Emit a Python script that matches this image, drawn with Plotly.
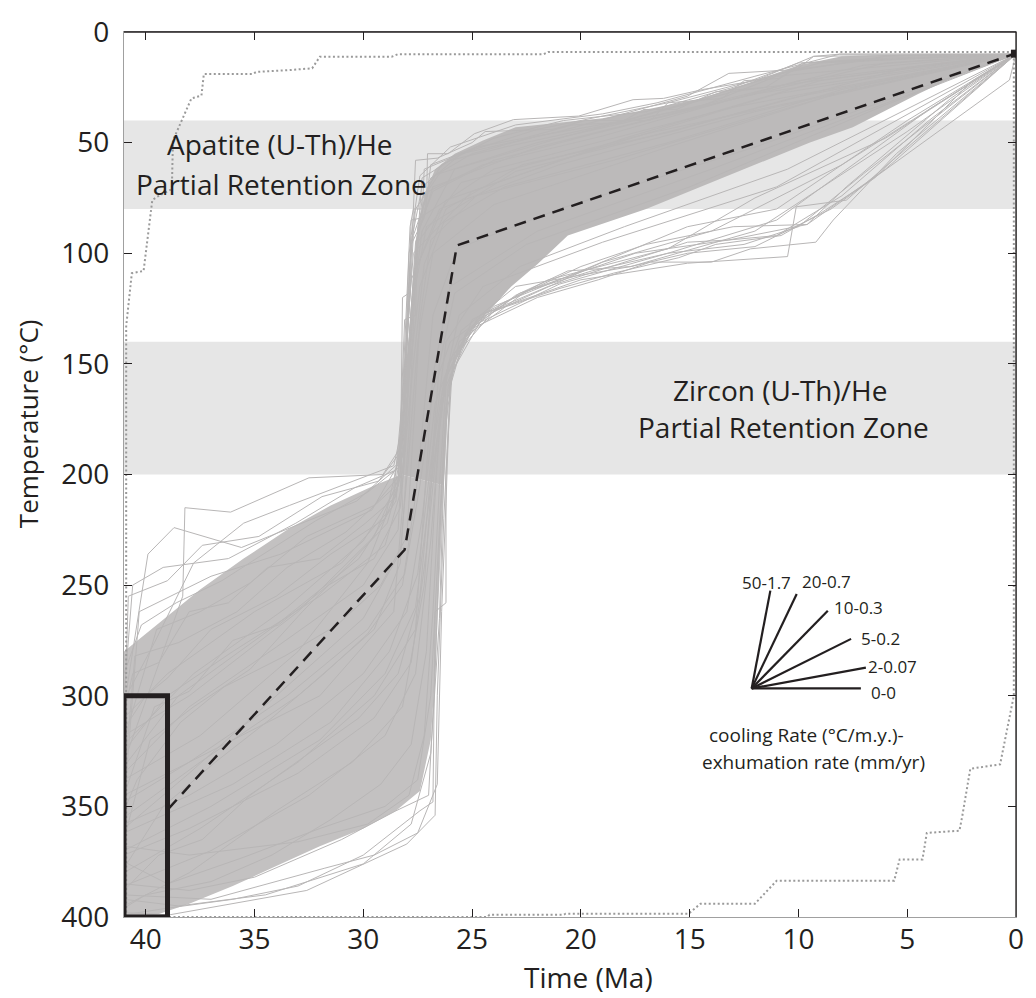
import plotly.graph_objects as go

# ---------------- data ----------------
time_ticks = [40, 35, 30, 25, 20, 15, 10, 5, 0]
temp_ticks = [0, 50, 100, 150, 200, 250, 300, 350, 400]

apatite_band = [40, 80]
zircon_band = [140, 200]
constraint_box_t = [41, 39]
constraint_box_T = [300, 400]

best_t = [38.95, 28.1, 25.7, 0.05]
best_T = [351, 234, 96.5, 9.8]

upper_env_t = [40.9, 40.9, 40.64, 40.1, 39.7, 39.5, 38.8, 38.75, 38.36, 37.9, 37.44, 37.33, 35.1, 34.9,
               33.4, 32.35, 32.0, 28.7, 28.4, 21.7, 21.5, 0.1]
upper_env_T = [400, 133, 109, 108, 76, 74.6, 71, 49, 40.3, 30, 28.7, 19, 19, 18,
               17.2, 16.4, 11.2, 11.2, 10, 10, 9, 9]

lower_env_t = [41, 24.3, 24.2, 20.8, 20.7, 15.05, 14.5, 12.0, 11.0, 5.6, 5.35, 4.3, 4.1, 2.6, 2.48, 2.1,
               0.73, 0.42, 0.1, 0.1, 0.05]
lower_env_T = [400, 400, 399, 399, 398.5, 398.5, 394, 394, 383.6, 383.6, 374, 374, 362, 361, 355, 333,
               331, 315, 300, 12, 9.8]

# dense cores of accepted paths (upper cluster solid, lower cluster textured)
core_upper_t = [0.2, 4, 8, 10, 12, 14.5, 17, 19, 21, 23, 24.5, 25.8, 26.7, 27.2, 27.6, 27.85, 28.0, 28.25,
                26.3, 26.1, 25.8, 25.2, 24.4, 23.2, 22, 20.6, 17, 15, 12, 9.5, 7.5, 4.5, 3, 1.4, 0.2]
core_upper_T = [9.8, 9.9, 11, 15, 22, 30, 35, 39, 41, 43, 49, 55, 62, 74, 95, 130, 165, 200,
                205, 165, 150, 137, 128, 115, 105, 92, 80, 72, 60, 50, 43, 28, 21, 15, 10.5]
core_lower_t = [28.25, 29.5, 31.5, 33.5, 35.5, 37.5, 39.5, 41, 41, 39.5, 38, 36, 34, 32, 30, 28.5, 27.4,
                26.9, 26.7, 26.5, 26.3]
core_lower_T = [200, 205, 214, 225, 238, 252, 268, 280, 400, 399, 394, 386, 377, 368, 360, 352, 343,
                320, 290, 250, 205]

# individual accepted paths (time Ma, temperature C)
paths_upper_left = [
    [(41, 330), (38.3, 255), (38.2, 215), (36.1, 217), (32.5, 201.5), (29.1, 200), (28.3, 188), (27.9, 140), (27.6, 95), (26.8, 70), (22, 52), (15, 35), (6, 14), (0, 10)],
    [(41, 305), (39.9, 236), (38.7, 224), (35.6, 233), (30.3, 212), (28.4, 195), (28.1, 150), (27.7, 100), (25, 72), (18, 48), (9, 22), (0, 10)],
    [(41, 350), (40.3, 262), (37.0, 246), (33.8, 236), (29.6, 216), (28.2, 192), (27.8, 125), (27.4, 84), (24, 62), (13, 34), (0, 10)],
    [(41, 300), (40.6, 250), (39.2, 242), (36.2, 238), (33.1, 222), (30.4, 206), (28.5, 198), (28.2, 165), (27.8, 112), (26.2, 76), (20, 55), (11, 28), (0, 10)],
    [(41, 320), (39.5, 270), (37.5, 262), (35.2, 249), (32.6, 228), (29.5, 214), (28.3, 200), (28.0, 150), (27.5, 95), (25.5, 68), (17, 46), (0, 10)],
    [(41, 340), (40.5, 282), (38.5, 276), (35.8, 262), (33.5, 242), (30.8, 226), (28.6, 206), (28.0, 160), (27.6, 108), (26.5, 80), (21, 60), (12, 36), (0, 10)],
    [(41, 315), (40.0, 300), (39.0, 292), (37.0, 270), (34.0, 255), (31.5, 236), (29.0, 220), (28.1, 180), (27.7, 120), (27.1, 88), (23, 63), (14, 40), (5, 16), (0, 10)],
    [(41, 290), (40.2, 268), (38.6, 258), (36.5, 248), (34.6, 236), (32.2, 221), (29.8, 208), (28.4, 197), (28.1, 172), (27.8, 128), (27.3, 90), (25.8, 62), (21, 48), (13, 27), (0, 10)],
    [(41, 302), (39.6, 276), (37.8, 240), (35.5, 222), (33.4, 214), (30.5, 203), (28.6, 196), (28.2, 178), (27.9, 110), (27.6, 80), (26.5, 64), (22, 50), (14.4, 33), (7, 15), (0, 10)],
    [(41, 312), (40.8, 255), (39.0, 248), (37.4, 232), (34.8, 228), (31.9, 210), (29.3, 203), (28.3, 190), (27.95, 135), (27.7, 92), (27.0, 72), (24.5, 60), (19, 47), (10, 22), (0, 10)],
    [(41, 308), (40.6, 290), (39.4, 285), (38.0, 262), (36.2, 258), (34.4, 242), (32.0, 238), (29.9, 222), (28.5, 210), (28.1, 185), (27.85, 140), (27.55, 100), (27.3, 66), (26.0, 58), (23.5, 52), (18.8, 42), (14.6, 34), (11, 20), (0, 10)],
]
paths_middle = [
    [(41, 360), (38, 335), (34, 300), (30, 265), (28.3, 235), (27.9, 190), (27.5, 140), (26.8, 100), (24, 78), (16, 52), (7, 24), (0, 10)],
    [(41, 380), (37.5, 360), (33, 330), (29.5, 300), (27.6, 270), (27.2, 210), (26.8, 155), (26, 115), (22, 90), (14, 62), (0, 10)],
    [(41, 395), (38, 380), (34, 352), (30.5, 330), (28.2, 305), (27.2, 250), (26.7, 180), (26.2, 140), (24.5, 115), (19, 95), (11, 70), (0, 10)],
    [(41, 365), (39.8, 320), (37.8, 305), (35.2, 288), (32.8, 262), (30.6, 240), (28.9, 222), (28.2, 198), (27.9, 155), (27.4, 115), (26.3, 86), (23.5, 70), (16, 50), (8, 26), (0, 10)],
    [(41, 378), (39.2, 350), (36.8, 330), (34.2, 310), (31.8, 290), (29.8, 272), (28.2, 250), (27.6, 210), (27.2, 170), (26.8, 128), (25.7, 98), (21, 80), (12, 52), (0, 10)],
    [(41, 388), (39.4, 372), (37.4, 365), (35.2, 345), (32.5, 326), (30.2, 310), (28.4, 290), (27.4, 255), (26.9, 200), (26.5, 150), (25.8, 118), (22.5, 96), (15, 70), (6, 33), (0, 10)],
    [(41, 352), (40.4, 338), (38.4, 312), (36.4, 296), (33.6, 282), (31.2, 268), (29.2, 250), (28.0, 228), (27.7, 180), (27.4, 130), (26.9, 94), (24.8, 74), (18.5, 58), (9, 30), (0, 10)],
    [(41, 345), (39.6, 305), (38.0, 298), (36.0, 275), (33.9, 268), (31.6, 250), (29.5, 238), (28.3, 215), (28.0, 180), (27.7, 150), (27.2, 105), (26.2, 80), (22.7, 60), (15.8, 45), (10.4, 30), (0, 10)],
    [(41, 396), (40, 390), (37, 384), (34.2, 372), (31.5, 356), (29.2, 340), (27.8, 322), (27.1, 280), (26.7, 210), (26.4, 165), (25.6, 128), (22.8, 106), (18, 88), (10.5, 62), (0, 10)],
]
paths_lower_right = [
    [(41, 398), (38.9, 399), (32.6, 388), (28.0, 367), (26.7, 354), (26.6, 300), (26.3, 220), (26.0, 160), (25.3, 136), (23.0, 119), (20.6, 108), (17.7, 106), (12, 90), (5, 45), (0, 10)],
    [(41, 390), (37, 392), (31.8, 378), (29.5, 372), (27.5, 362), (26.6, 340), (26.4, 262), (26.2, 213), (26.0, 155), (24.4, 127), (20, 112), (15.1, 104.5), (10.5, 101.5), (10.1, 79), (7.8, 76), (0, 10)],
    [(41, 385), (38, 388), (35, 382), (31, 365), (28.5, 352), (27, 345), (26.7, 290), (26.5, 230), (26.2, 170), (25.6, 140), (22.5, 117), (17.5, 100), (13.2, 94), (9.6, 87), (6, 62), (0, 10)],
    [(41, 375), (39, 385), (35.5, 373), (32, 360), (29, 350), (27.5, 338), (26.9, 300), (26.6, 240), (26.3, 185), (25.8, 145), (24, 124), (20.5, 110), (15.1, 88), (11, 80), (5, 40), (0, 10)],
    [(41, 392), (38.5, 395), (34.5, 390), (30, 376), (27.8, 358), (26.9, 326), (26.5, 265), (26.3, 200), (26.1, 160), (25, 130), (21.5, 112), (16, 98), (12, 75), (6, 48), (0, 10)],
    [(41, 368), (38, 372), (33, 366), (29.8, 358), (27.9, 345), (27.2, 318), (26.8, 262), (26.5, 205), (26.2, 160), (24.8, 130), (19, 104), (14, 90), (8, 60), (0, 10)],
    [(41, 399), (39, 396), (36, 392), (33, 386), (30, 372), (27.4, 352), (26.8, 348), (26.7, 262), (26.2, 258), (26.2, 200), (25.9, 150), (24.8, 132), (21, 114), (16, 100), (11, 85), (4, 35), (0, 10)],
]
paths_upper_right = [
    [(41, 345), (37, 325), (32, 300), (28.6, 262), (28.2, 215), (28.3, 185), (27.85, 88), (27.7, 80), (27.1, 80), (27.05, 55), (26.1, 55), (24.9, 46), (23.1, 39.6), (20.1, 38), (17.6, 30.6), (16.2, 30), (14.4, 26), (12, 22), (9.3, 11), (8.1, 10), (0, 10)],
    [(41, 310), (39, 290), (35, 262), (31, 240), (28.7, 215), (28.2, 185), (27.9, 100), (27.3, 70), (25.5, 55), (21, 45), (15.1, 29), (13.2, 18.7), (10.1, 17), (9.3, 11), (0, 10)],
    [(41, 335), (38, 305), (34, 278), (30, 250), (28.4, 225), (28.1, 170), (27.8, 92), (27.4, 65), (26, 52), (23, 42), (19, 37), (16.5, 32), (12, 20), (8.1, 10), (0, 10)],
    [(41, 355), (37.5, 330), (33, 300), (29.5, 270), (28.3, 240), (27.9, 180), (27.6, 110), (27.3, 75), (26.4, 60), (24, 48), (20.8, 40), (17, 36), (13, 25), (10, 14), (0, 10)],
    [(41, 325), (39, 300), (36, 280), (32, 255), (29, 232), (28.2, 205), (27.8, 140), (27.5, 88), (26.9, 66), (25, 55), (22, 47), (18, 40), (14.4, 30), (10.5, 18), (6, 11), (0, 10)],
    [(41, 318), (38, 300), (33, 262), (29.5, 228), (28.3, 200), (28.25, 145), (28.2, 120), (27.9, 118), (27.8, 85), (27.3, 84), (27.2, 62), (25.5, 55), (22, 44), (16, 32), (9, 14), (0, 10)],
    [(41, 338), (37.5, 318), (33, 280), (29.8, 240), (28.4, 205), (28.2, 160), (28.1, 130), (27.6, 128), (27.5, 90), (26.8, 72), (24, 58), (19, 45), (12, 28), (0, 10)],
    [(41, 332), (38.5, 300), (34, 268), (30.2, 238), (28.5, 212), (28.2, 180), (27.9, 125), (27.75, 90), (27.6, 58), (26.6, 57), (25.0, 50), (24.4, 45), (21.3, 44), (19.8, 40), (16.8, 40), (16.0, 32), (13.5, 30), (12.5, 22), (10.9, 21), (9.8, 14), (6.5, 12), (0, 10)],
    [(41, 322), (37.8, 290), (33.5, 260), (30.0, 230), (28.4, 205), (28.1, 160), (27.8, 96), (27.2, 84), (26.9, 60), (24.8, 52), (22.6, 48), (20.4, 42), (18.2, 41), (17.1, 35), (15.6, 35), (13.8, 27), (11.5, 25), (10.2, 17), (7, 13), (0, 10)],
]
paths_lower_fringe = [
    [(41, 370), (37, 350), (32, 320), (29, 290), (27.6, 260), (27.0, 215), (26.5, 175), (26.0, 148), (24.6, 128), (21.5, 115), (18, 104), (15.1, 95), (13.2, 94), (11, 92), (8, 74), (4, 40), (0, 10)],
    [(41, 362), (36, 340), (31.5, 312), (28.8, 280), (27.5, 245), (26.9, 195), (26.3, 158), (25.2, 135), (22.8, 118), (19.5, 108), (16, 100), (12.5, 96), (10, 88), (7, 64), (0, 10)],
    [(41, 348), (38, 330), (33.5, 300), (29.8, 270), (28.1, 245), (27.4, 205), (26.8, 162), (26.0, 140), (23.5, 122), (20, 106), (17, 96), (13, 88), (9.6, 87), (7.8, 70), (3, 30), (0, 10)],
    [(41, 358), (38, 345), (34, 322), (30, 290), (28, 262), (27.3, 220), (26.7, 168), (25.5, 135), (23, 115), (17.7, 106), (15.1, 100), (12, 97), (8.5, 80), (0.3, 21.7), (0, 10)],
    [(41, 386), (37, 370), (32.5, 345), (29, 318), (27.6, 290), (26.9, 230), (26.5, 180), (26.2, 156), (25.0, 134), (22.0, 120), (19.2, 112), (16.8, 104), (14.0, 104), (12.2, 98), (9.2, 95), (8.4, 85), (5.5, 55), (0, 10)],
    [(41, 372), (38, 360), (33, 335), (29.5, 310), (27.8, 285), (27.1, 235), (26.6, 185), (26.1, 150), (24.0, 126), (21.0, 116), (18.5, 109), (15.5, 102), (13.8, 96), (10.8, 92), (9.0, 82), (6.5, 66), (2, 22), (0, 10)],
]
all_paths = paths_upper_left + paths_middle + paths_lower_right + paths_upper_right + paths_lower_fringe

# cooling-rate fan legend
rate_labels = ["50-1.7", "20-0.7", "10-0.3", "5-0.2", "2-0.07", "0-0"]
fan_origin_t, fan_origin_T = 12.15, 296.7
rate_end_t = [11.29, 10.08, 8.65, 7.58, 6.9, 7.13]
rate_end_T = [252.5, 254.0, 261.6, 274.3, 287.3, 296.7]
rate_label_t = [11.45, 8.72, 7.24, 6.21, 5.67, 6.1]
rate_label_T = [248.6, 248.5, 260.0, 274.3, 286.9, 298.5]

# ---------------- figure ----------------
FONT = "Open Sans"
INK = "#231f20"
GRAY = "#bcbaba"

fig = go.Figure()

fig.add_trace(go.Scatter(x=core_lower_t, y=core_lower_T, mode="lines", fill="toself", fillcolor="#c3c1c1",
                         line=dict(width=0, color="#c3c1c1"), hoverinfo="skip", showlegend=False))
fig.add_trace(go.Scatter(x=core_upper_t, y=core_upper_T, mode="lines", fill="toself", fillcolor=GRAY,
                         line=dict(width=0, color=GRAY), hoverinfo="skip", showlegend=False))

px, py = [], []
for p in all_paths:
    for t, T in p:
        px.append(t)
        py.append(T)
    px.append(None)
    py.append(None)
fig.add_trace(go.Scatter(x=px, y=py, mode="lines", line=dict(color="#b8b6b6", width=1),
                         hoverinfo="skip", showlegend=False))

for et, eT in [(upper_env_t, upper_env_T), (lower_env_t, lower_env_T)]:
    fig.add_trace(go.Scatter(x=et, y=eT, mode="lines",
                             line=dict(color="#9a9a9a", width=2, dash="2px,2.5px"),
                             hoverinfo="skip", showlegend=False))

fig.add_trace(go.Scatter(x=best_t, y=best_T, mode="lines",
                         line=dict(color=INK, width=2.5, dash="12px,8px"),
                         hoverinfo="skip", showlegend=False))
fig.add_trace(go.Scatter(x=[best_t[-1]], y=[best_T[-1]], mode="markers",
                         marker=dict(symbol="square", size=8, color=INK),
                         hoverinfo="skip", showlegend=False))

fx, fy = [], []
for et, eT in zip(rate_end_t, rate_end_T):
    fx += [fan_origin_t, et, None]
    fy += [fan_origin_T, eT, None]
fig.add_trace(go.Scatter(x=fx, y=fy, mode="lines", line=dict(color=INK, width=2.2),
                         hoverinfo="skip", showlegend=False))

shapes = [
    dict(type="rect", xref="x", yref="y", x0=41, x1=0, y0=apatite_band[0], y1=apatite_band[1],
         fillcolor="#e6e6e6", line=dict(width=0), layer="below"),
    dict(type="rect", xref="x", yref="y", x0=41, x1=0, y0=zircon_band[0], y1=zircon_band[1],
         fillcolor="#e6e6e6", line=dict(width=0), layer="below"),
    dict(type="rect", xref="x", yref="y", x0=constraint_box_t[0], x1=constraint_box_t[1],
         y0=constraint_box_T[0], y1=constraint_box_T[1], line=dict(color=INK, width=5)),
    dict(type="line", xref="paper", yref="paper", x0=0, x1=1, y0=1, y1=1, line=dict(color=INK, width=1.3)),
    dict(type="line", xref="paper", yref="paper", x0=1, x1=1, y0=0, y1=1, line=dict(color=INK, width=1.3)),
]

ann = []
def txt(x, y, s, size=28, xref="x", yref="y", angle=0):
    ann.append(dict(x=x, y=y, xref=xref, yref=yref, text=s, showarrow=False, textangle=angle,
                    xanchor="center", yanchor="middle", font=dict(family=FONT, size=size, color=INK)))

txt(33.82, 50.7, "Apatite (U-Th)/He")
txt(33.78, 68.6, "Partial Retention Zone")
txt(10.83, 161.9, "Zircon (U-Th)/He")
txt(10.67, 178.7, "Partial Retention Zone")
for lab, lt, lT in zip(rate_labels, rate_label_t, rate_label_T):
    txt(lt, lT, lab, size=17)
txt(9.64, 317.8, "cooling Rate (°C/m.y.)-", size=19)
txt(9.3, 329.8, "exhumation rate (mm/yr)", size=19)
txt(-0.108, 0.5576, "Temperature (°C)", size=26, xref="paper", yref="paper", angle=-90)
txt(0.5206, -0.0682, "Time (Ma)", xref="paper", yref="paper")

axis_common = dict(showgrid=False, zeroline=False, showline=True, linecolor="#a0a0a0", linewidth=1.3,
                   ticks="inside", ticklen=8, tickwidth=1.2, tickcolor=INK, mirror="ticks",
                   tickfont=dict(family=FONT, size=28, color=INK))

fig.update_layout(
    width=1036, height=998,
    margin=dict(l=124, r=15, t=23, b=81),
    paper_bgcolor="white", plot_bgcolor="white",
    xaxis=dict(range=[41, 0], tickvals=time_ticks, ticklabelstandoff=-3, **axis_common),
    yaxis=dict(range=[400, 0], tickvals=temp_ticks, ticklabelstandoff=8, **axis_common),
    shapes=shapes, annotations=ann, showlegend=False,
)

fig.write_html("out.html")
